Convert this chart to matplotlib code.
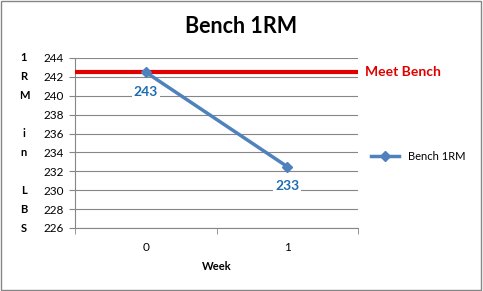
import matplotlib.pyplot as plt
from matplotlib.patches import Rectangle

plt.rcParams['font.family'] = ['Lato', 'DejaVu Sans']

weeks = ['0', '1']
bench = [242.5, 232.5]
labels = ['243', '233']
meet = 242.5

fig = plt.figure(figsize=(4.83, 2.91), dpi=100)
ax = fig.add_axes([75 / 483, 1 - 228 / 291, (358 - 75) / 483, (228 - 58) / 291])

x = list(range(len(weeks)))
ax.plot(x, bench, color='#4F81BD', lw=2.5, marker='D', ms=5, label='Bench 1RM', zorder=4)
ax.axhline(meet, color='#E00000', lw=3, zorder=3)
ax.text(1.55, meet, 'Meet Bench', color='#E00000', fontsize=10, fontweight='bold',
        va='center', ha='left', clip_on=False)

for xi, yi, s in zip(x, bench, labels):
    ax.annotate(s, (xi, yi), xytext=(0, -14), textcoords='offset points', ha='center',
                va='center', color='#1F6BB0', fontsize=10, fontweight='bold',
                bbox=dict(boxstyle='square,pad=0.15', fc='white', ec='none'), zorder=5)

ax.set_xlim(-0.5, 1.5)
ax.set_ylim(226, 244)
ax.set_yticks(range(226, 245, 2))
ax.set_xticks(x)
ax.set_xticklabels(weeks)
ax.set_xticks([-0.5, 0.5, 1.5], minor=True)
ax.tick_params(axis='x', which='major', length=0, pad=10, labelsize=8.5)
ax.tick_params(axis='x', which='minor', length=4, color='#868686')
ax.tick_params(axis='y', length=4, color='#868686', labelsize=8.5, pad=4)
ax.grid(axis='y', color='#868686', lw=0.8)
ax.set_axisbelow(True)
for sp in ['top', 'right']:
    ax.spines[sp].set_visible(False)
for sp in ['left', 'bottom']:
    ax.spines[sp].set_color('#868686')

ax.set_xlabel('Week', fontsize=8, fontweight='bold', labelpad=6)
ax.set_ylabel('\n'.join('1RM in LBS'), rotation=0, fontsize=8, fontweight='bold',
              linespacing=1.9, va='center', labelpad=14)

ax.legend(loc='center left', bbox_to_anchor=(1.0, 0.42), frameon=False, fontsize=8,
          handlelength=2.5, borderaxespad=0.8)

fig.suptitle('Bench 1RM', fontsize=15.5, fontweight='bold', x=0.5, y=0.945)
fig.patches.append(Rectangle((0.002, 0.003), 0.994, 0.994, transform=fig.transFigure,
                             fill=False, ec='#868686', lw=1))

fig.savefig('out.png', dpi=100)
